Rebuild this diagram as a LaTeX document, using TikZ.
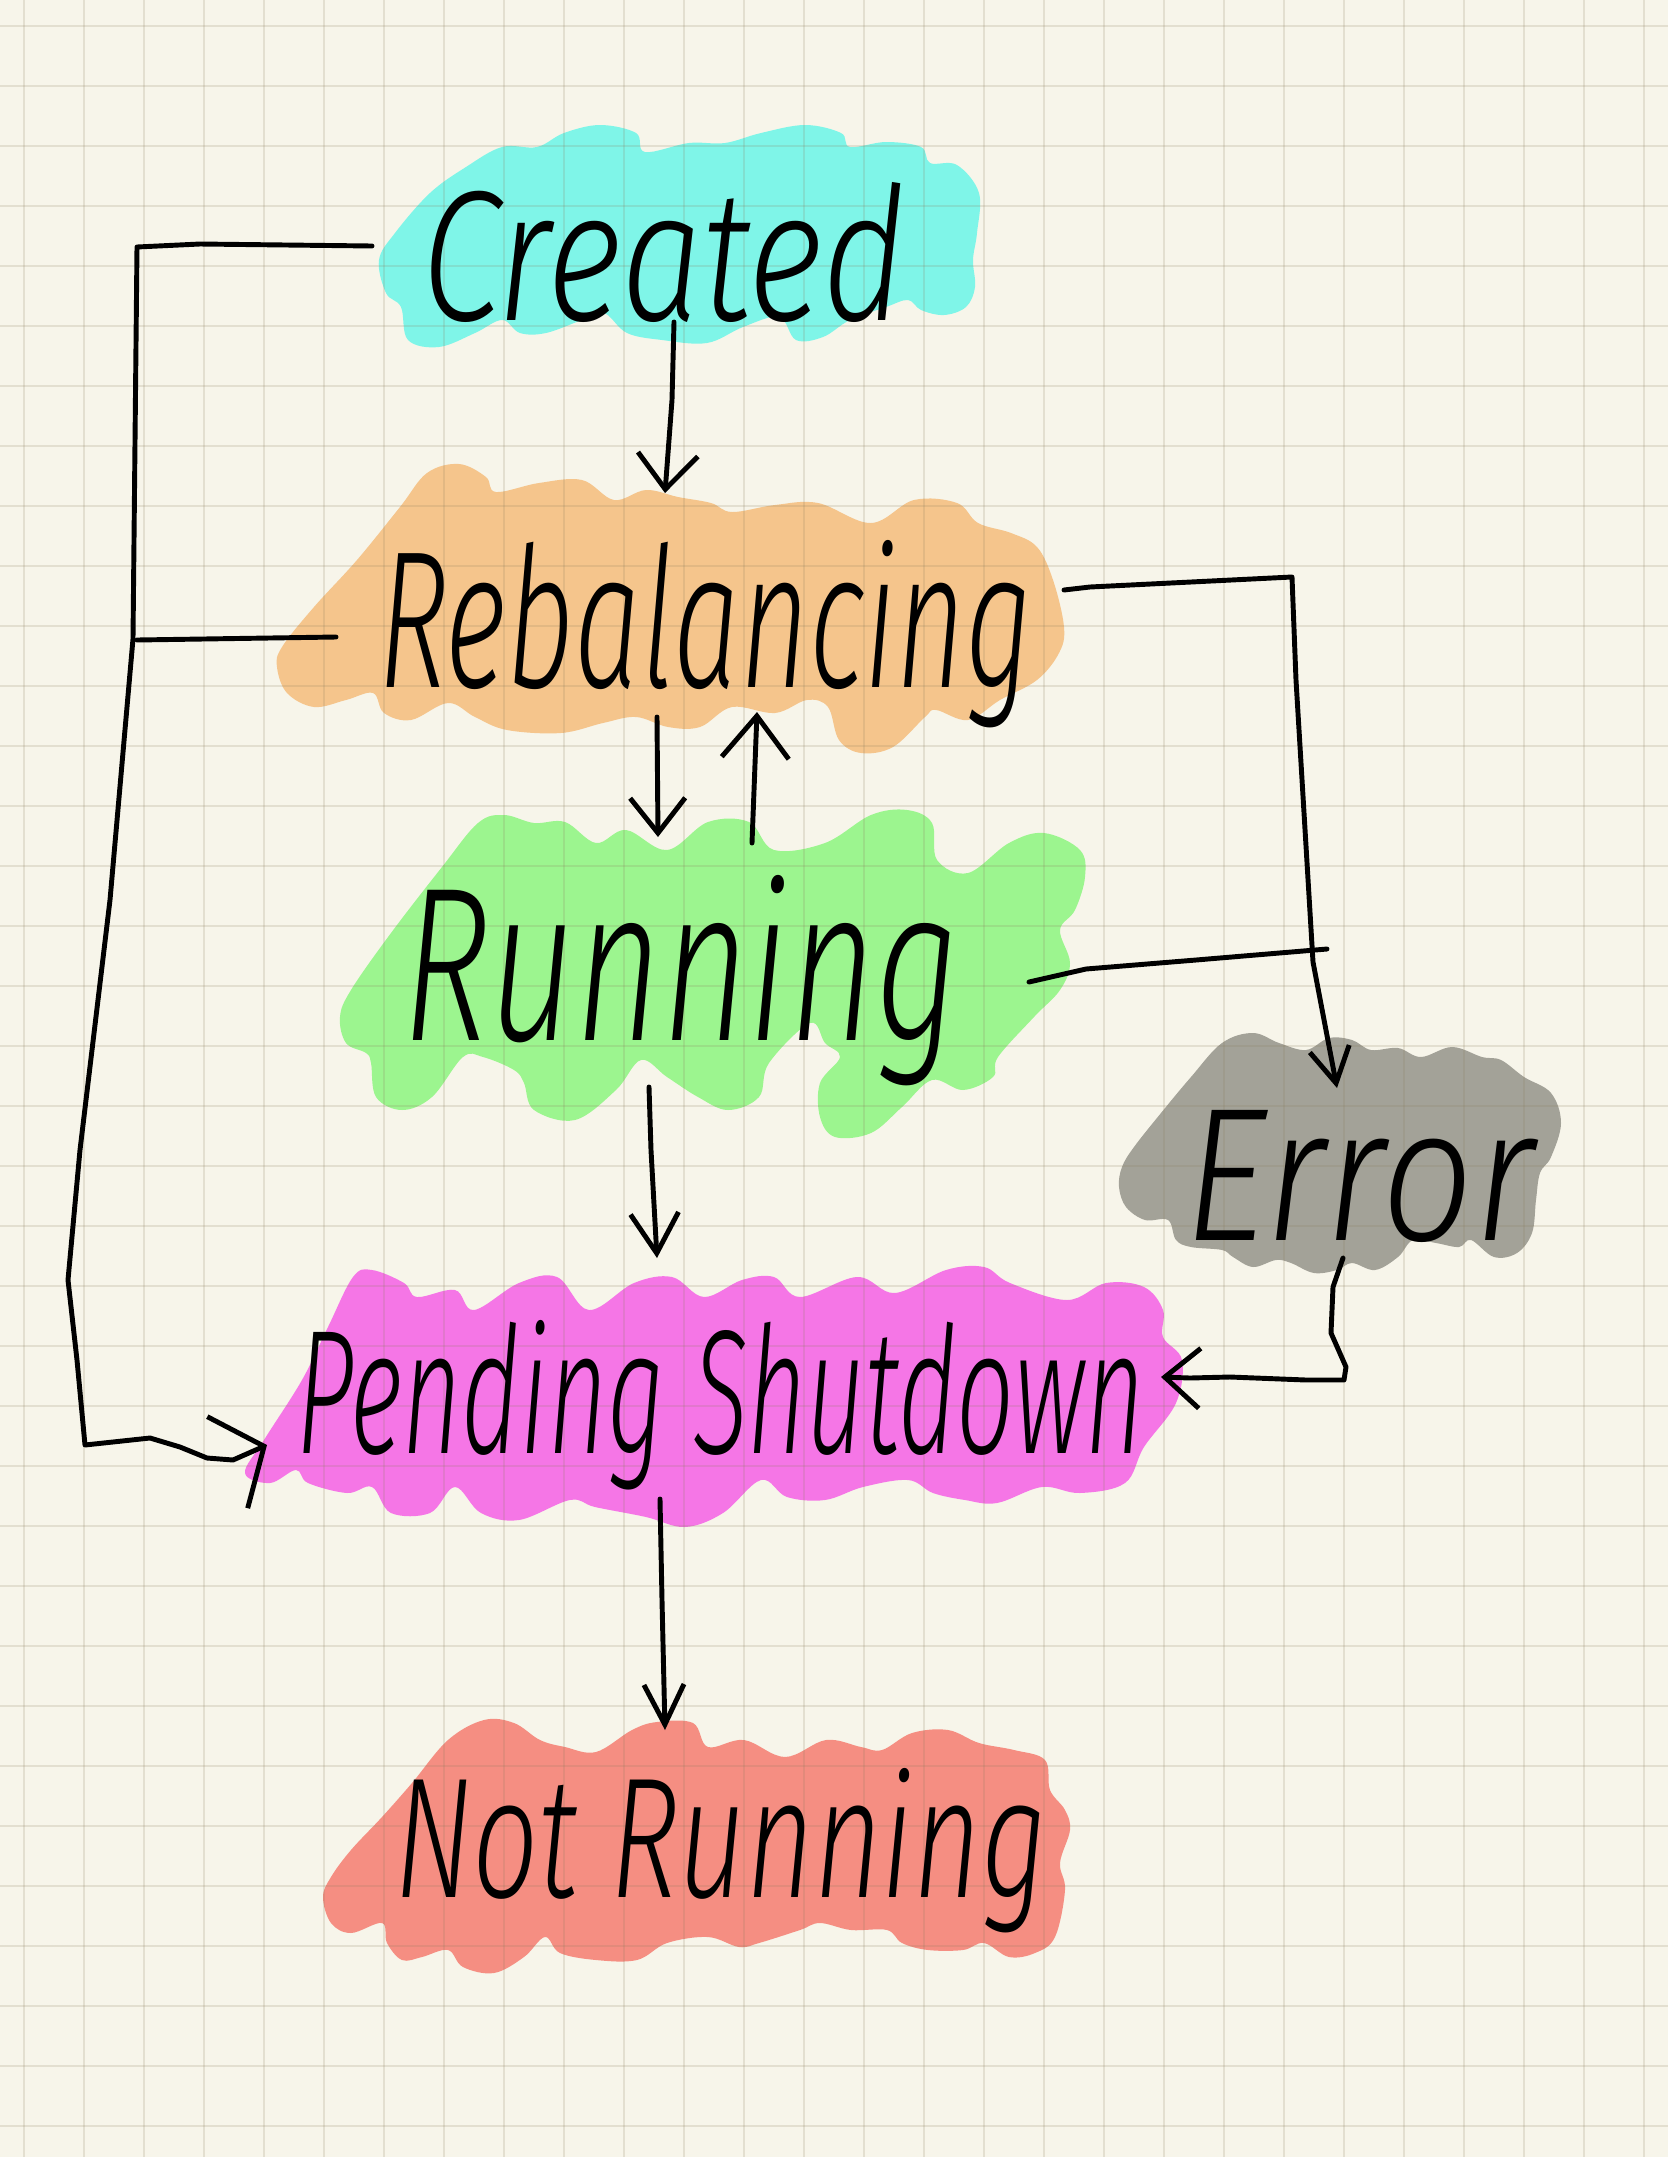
\documentclass[tikz,border=0pt]{standalone}
\usepackage{fontspec}
\newfontfamily\hand{Fira Sans}[UprightFont=* Light, ItalicFont=* Light Italic]
\usetikzlibrary{arrows.meta}
\definecolor{paper}{RGB}{247,245,234}
\definecolor{gridc}{RGB}{140,125,95}
\definecolor{cCreated}{RGB}{127,245,232}
\definecolor{cRebal}{RGB}{245,197,140}
\definecolor{cRun}{RGB}{156,245,143}
\definecolor{cErr}{RGB}{163,162,152}
\definecolor{cPend}{RGB}{245,118,230}
\definecolor{cNot}{RGB}{245,142,130}
\newcommand{\hwtext}[3]{\resizebox{#1mm}{#2mm}{\hand\itshape #3}}
\begin{document}
\begin{tikzpicture}[x=0.01cm,y=-0.01cm,
  conn/.style={line width=1.4pt, line cap=round, line join=round, black},
  lbl/.style={anchor=base west, inner sep=0pt, outer sep=0pt},
  gridline/.style={gridc, opacity=0.18, line width=0.6pt}]
\useasboundingbox (0,0) rectangle (1668,2157);
\fill[paper] (0,0) rectangle (1668,2157);

% blobs
\fill[cCreated] plot[smooth cycle, tension=0.6] coordinates {
(379,260) (395,233) (430,193) (466,167) (502,147) (537,147) (564,133) (600,125) (636,133) (645,152) (689,143) (725,143) (761,133) (805,125) (841,133) (850,147) (886,142) (921,147) (930,163) (957,165) (979,193) (977,233) (973,260) (975,287) (966,307) (944,315) (921,310) (908,300) (886,307) (850,320) (823,337) (796,340) (779,317) (743,327) (707,343) (662,340) (627,333) (604,313) (582,320) (546,333) (520,333) (502,320) (475,333) (439,347) (408,340) (401,307) (386,293)};

\fill[cRebal] plot[smooth cycle, tension=0.6] coordinates {
(277,667) (282,647) (314,607) (357,560) (400,507) (427,473) (459,464) (486,477) (496,492) (539,483) (582,480) (614,500) (646,490) (678,497) (711,503) (732,512) (775,505) (818,503) (871,523) (914,500) (957,503) (978,523) (1011,533) (1037,547) (1053,580) (1064,627) (1059,653) (1037,680) (1000,700) (968,720) (936,710) (925,717) (893,747) (861,753) (839,740) (828,707) (807,700) (775,713) (732,707) (700,727) (668,727) (636,717) (603,723) (561,733) (507,730) (475,717) (448,703) (411,720) (384,713) (373,693) (346,700) (314,707) (287,693)};

\fill[cRun] plot[smooth cycle, tension=0.6] coordinates {
(340,1017) (351,990) (391,933) (442,867) (478,823) (504,815) (534,823) (565,822) (596,843) (626,830) (667,850) (708,822) (749,822) (774,850) (825,843) (871,815) (907,810) (932,823) (937,860) (968,873) (1009,843) (1044,833) (1080,850) (1085,877) (1075,910) (1060,930) (1070,963) (1060,990) (1034,1017) (998,1057) (993,1077) (963,1090) (932,1080) (902,1107) (871,1133) (835,1137) (820,1117) (820,1083) (840,1057) (825,1043) (810,1023) (769,1063) (759,1097) (728,1110) (698,1097) (667,1077) (641,1060) (616,1090) (575,1120) (534,1110) (524,1083) (514,1070) (483,1057) (463,1057) (432,1097) (402,1110) (376,1097) (371,1063) (366,1053) (346,1043)};

\fill[cErr] plot[smooth cycle, tension=0.6] coordinates {
(1119,1187) (1122,1167) (1134,1147) (1161,1113) (1191,1077) (1222,1043) (1253,1033) (1279,1043) (1306,1050) (1329,1038) (1352,1040) (1371,1050) (1398,1048) (1421,1057) (1452,1047) (1482,1057) (1501,1060) (1524,1077) (1551,1093) (1561,1123) (1551,1157) (1540,1173) (1536,1200) (1532,1233) (1517,1253) (1494,1257) (1471,1240) (1459,1247) (1436,1243) (1413,1240) (1398,1257) (1375,1270) (1352,1263) (1337,1270) (1314,1273) (1291,1263) (1276,1260) (1253,1267) (1233,1257) (1222,1250) (1191,1247) (1176,1240) (1168,1220) (1145,1220) (1126,1207)};

\fill[cPend] plot[smooth cycle, tension=0.6] coordinates {
(245,1473) (264,1440) (302,1380) (328,1327) (353,1277) (372,1270) (404,1283) (417,1297) (455,1290) (474,1310) (519,1283) (557,1277) (589,1310) (634,1283) (672,1277) (704,1297) (742,1280) (774,1277) (800,1297) (857,1277) (895,1293) (946,1270) (984,1267) (1010,1283) (1067,1300) (1106,1283) (1144,1287) (1163,1310) (1163,1337) (1182,1360) (1176,1403) (1144,1447) (1125,1483) (1080,1493) (1042,1487) (997,1503) (965,1500) (933,1493) (908,1480) (863,1487) (825,1500) (787,1497) (761,1480) (723,1513) (685,1527) (646,1517) (595,1507) (570,1500) (519,1520) (481,1513) (455,1487) (430,1513) (391,1513) (372,1487) (347,1493) (308,1483) (296,1470) (270,1483)};

\fill[cNot] plot[smooth cycle, tension=0.6] coordinates {
(323,1897) (331,1877) (351,1850) (382,1817) (412,1783) (448,1740) (484,1720) (514,1723) (540,1740) (565,1747) (596,1752) (632,1730) (657,1722) (693,1723) (708,1747) (744,1740) (785,1757) (826,1740) (861,1747) (882,1750) (912,1733) (948,1730) (979,1743) (1014,1750) (1045,1760) (1050,1790) (1065,1810) (1070,1830) (1060,1863) (1065,1890) (1055,1937) (1035,1953) (1009,1957) (984,1943) (963,1950) (928,1950) (902,1943) (887,1930) (851,1930) (820,1923) (800,1930) (759,1943) (739,1947) (708,1937) (667,1943) (637,1960) (596,1960) (560,1953) (545,1937) (524,1957) (494,1973) (463,1967) (448,1950) (422,1957) (402,1960) (387,1943) (382,1923) (351,1933) (331,1923)};

% grid
\foreach \i in {0,...,27} \draw[gridline] ({24+60*\i},0) -- ({24+60*\i},2157);
\foreach \j in {0,...,35} \draw[gridline] (0,{26+60*\j}) -- (1668,{26+60*\j});

% labels
\node[lbl] (tCreated) at (421,320) {\hwtext{48.5}{13.8}{Created}};
\node[lbl] (tRebal) at (378,687) {\hwtext{65.4}{14.7}{Rebalancing}};
\node[lbl] (tRun) at (402,1040) {\hwtext{55.8}{16.5}{Running}};
\node[lbl] (tErr) at (1184,1240) {\hwtext{35}{13}{Error}};
\node[lbl] (tPend) at (296,1453) {\hwtext{84.8}{13.3}{Pending Shutdown}};
\node[lbl] (tNot) at (394,1897) {\hwtext{65.3}{12.9}{Not Running}};

% connector ends
\coordinate (cL) at (372,246);
\coordinate (cB) at (674,322);
\coordinate (rT) at (665,493);
\coordinate (rL) at (336,637);
\coordinate (rR) at (1064,590);
\coordinate (rB1) at (657,717);
\coordinate (nT1) at (658,837);
\coordinate (nT2) at (752,843);
\coordinate (rB2) at (757,712);
\coordinate (nR) at (1029,982);
\coordinate (jR) at (1327,949);
\coordinate (nB) at (649,1087);
\coordinate (pT) at (657,1258);
\coordinate (eT) at (1337,1088);
\coordinate (eB) at (1343,1258);
\coordinate (pR) at (1161,1377);
\coordinate (pL) at (267,1445);
\coordinate (pB) at (660,1499);
\coordinate (xT) at (665,1730);

% connectors
\draw[conn, -{Straight Barb[length=3.5mm,width=6mm]}] (cB) -- (672,400) -- (rT);
\draw[conn, -{Straight Barb[length=4mm,width=10mm]}] (cL) -- (200,244) -- (137,247) -- (133,639) -- (110,900) -- (80,1150) -- (68,1280) -- (77,1360) -- (85,1445) -- (150,1438) -- (180,1447) -- (207,1458) -- (233,1460) -- (pL);
\draw[conn] (rL) -- (137,640);
\draw[conn, -{Straight Barb[length=3.5mm,width=4mm]}] (rR) -- (1090,587) -- (1292,577) -- (1296,680) -- (1313,962) -- (eT);
\draw[conn] (nR) -- (1086,969) -- (1196,960) -- (jR);
\draw[conn, -{Straight Barb[length=3.5mm,width=5.5mm]}] (rB1) -- (nT1);
\draw[conn, -{Straight Barb[length=4.2mm,width=6.7mm]}] (nT2) -- (rB2);
\draw[conn, -{Straight Barb[length=4mm,width=4.8mm]}] (nB) -- (651,1150) -- (pT);
\draw[conn, -{Straight Barb[length=3.5mm,width=6mm]}] (eB) -- (1333,1287) -- (1331,1333) -- (1346,1367) -- (1344,1380) -- (1306,1380) -- (1230,1377) -- (1190,1378) -- (pR);
\draw[conn, -{Straight Barb[length=4mm,width=4mm]}] (pB) -- (662,1600) -- (xT);
\end{tikzpicture}
\end{document}
